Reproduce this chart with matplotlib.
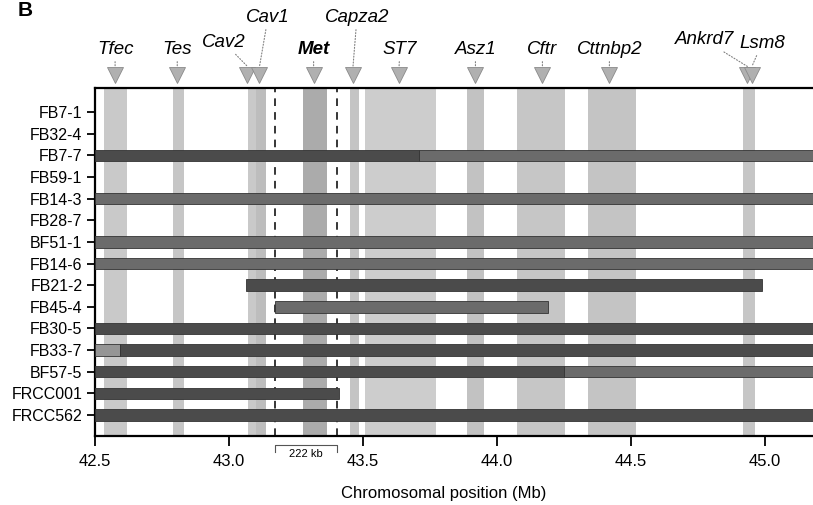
import matplotlib.pyplot as plt
import matplotlib.transforms as mtransforms

plt.rcParams['font.family'] = ['Liberation Sans', 'DejaVu Sans']

# strains, top to bottom
strains = ['FB7-1', 'FB32-4', 'FB7-7', 'FB59-1', 'FB14-3', 'FB28-7', 'BF51-1',
           'FB14-6', 'FB21-2', 'FB45-4', 'FB30-5', 'FB33-7', 'BF57-5',
           'FRCC001', 'FRCC562']

# bar segments (strain, start Mb, end Mb, shade)
seg_strain = ['FB7-7', 'FB7-7', 'FB14-3', 'BF51-1', 'FB14-6', 'FB21-2', 'FB45-4',
              'FB30-5', 'FB33-7', 'FB33-7', 'BF57-5', 'BF57-5', 'FRCC001', 'FRCC562']
seg_start = [42.5, 43.71, 42.5, 42.5, 42.5, 43.064, 43.17,
             42.5, 42.5, 42.594, 42.5, 44.25, 42.5, 42.5]
seg_end = [43.71, 45.3, 45.3, 45.3, 45.3, 44.99, 44.19,
           45.3, 42.594, 45.3, 44.25, 45.3, 43.41, 45.3]
seg_shade = ['dark', 'mid', 'mid', 'mid', 'mid', 'dark', 'mid',
             'dark', 'light', 'dark', 'dark', 'mid', 'dark', 'dark']
shades = {'dark': '#4b4b4b', 'mid': '#6b6b6b', 'light': '#959595'}

# gene bands (Mb)
band_start = [42.534, 42.79, 43.07, 43.10, 43.278, 43.452, 43.507, 43.889, 44.076, 44.339, 44.918]
band_end = [42.62, 42.833, 43.10, 43.137, 43.365, 43.486, 43.771, 43.952, 44.254, 44.519, 44.962]
band_col = ['#c9c9c9', '#c6c6c6', '#c9c9c9', '#bdbdbd', '#ababab', '#c4c4c4',
            '#cdcdcd', '#c2c2c2', '#c6c6c6', '#c4c4c4', '#c6c6c6']

# gene markers: name, arrow position, label position (x Mb, y axes fraction)
genes = ['Tfec', 'Tes', 'Cav2', 'Cav1', 'Met', 'Capza2', 'ST7', 'Asz1', 'Cftr',
         'Cttnbp2', 'Ankrd7', 'Lsm8']
gene_pos = [42.575, 42.807, 43.069, 43.114, 43.316, 43.463, 43.635, 43.92, 44.17,
            44.42, 44.935, 44.952]
label_x = [42.575, 42.807, 42.98, 43.146, 43.316, 43.478, 43.638, 43.92, 44.17,
           44.42, 44.775, 44.99]
label_y = [1.112, 1.112, 1.132, 1.204, 1.112, 1.204, 1.112, 1.112, 1.112,
           1.112, 1.138, 1.129]

# critical interval
crit = [43.17, 43.405]

fig = plt.figure(figsize=(8.13, 5.05), dpi=100)
ax = fig.add_axes([95/813, 69/505, 718/813, 348/505])

for s, e, c in zip(band_start, band_end, band_col):
    ax.axvspan(s, e, color=c, lw=0, zorder=1)

for x in crit:
    ax.axvline(x, color='black', lw=1.1, ls=(0, (5, 4)), zorder=2)

for name, s, e, sh in zip(seg_strain, seg_start, seg_end, seg_shade):
    ax.barh(strains.index(name), e - s, left=s, height=0.53, color=shades[sh],
            edgecolor='#333333', lw=0.6, zorder=3)

ax.set_xlim(42.5, 45.18)
ax.set_ylim(14.97, -1.11)
ax.set_yticks(range(len(strains)))
ax.set_yticklabels(strains, fontsize=11.5)
ax.set_xticks([42.5, 43.0, 43.5, 44.0, 44.5, 45.0])
ax.set_xticklabels(['42.5', '43.0', '43.5', '44.0', '44.5', '45.0'], fontsize=12)
ax.tick_params(axis='x', length=7, width=1.3, pad=6)
ax.tick_params(axis='y', length=6, width=1.3, pad=3)
for sp in ['top', 'left', 'bottom']:
    ax.spines[sp].set_linewidth(1.6)
ax.spines['right'].set_visible(False)

ax.set_xlabel('Chromosomal position (Mb)', fontsize=12)
ax.xaxis.set_label_coords(0.485, -0.145)

trans = mtransforms.blended_transform_factory(ax.transData, ax.transAxes)
for name, gx, lx, ly in zip(genes, gene_pos, label_x, label_y):
    ax.plot([gx], [1.037], marker='v', ms=11.5, color='#b0b0b0', mec='#8a8a8a',
            mew=0.6, transform=trans, clip_on=False, zorder=5)
    ax.annotate(name, xy=(gx, 1.062), xytext=(lx, ly), xycoords=trans,
                textcoords=trans, ha='center', va='center', fontsize=13.5,
                style='italic', fontweight='bold' if name == 'Met' else 'normal',
                arrowprops=dict(arrowstyle='-', ls=':', color='#808080', lw=0.8,
                                shrinkA=1, shrinkB=0))

# 222 kb bracket under the axis
ax.plot([crit[0], crit[0], crit[1], crit[1]], [-0.045, -0.025, -0.025, -0.045],
        color='#555555', lw=0.8, transform=trans, clip_on=False)
ax.text(sum(crit) / 2, -0.052, '222 kb', transform=trans, ha='center', va='center',
        fontsize=8)

fig.text(0.022, 0.999, 'B', fontsize=15, fontweight='bold', va='top')

fig.savefig('out.png', dpi=100)
